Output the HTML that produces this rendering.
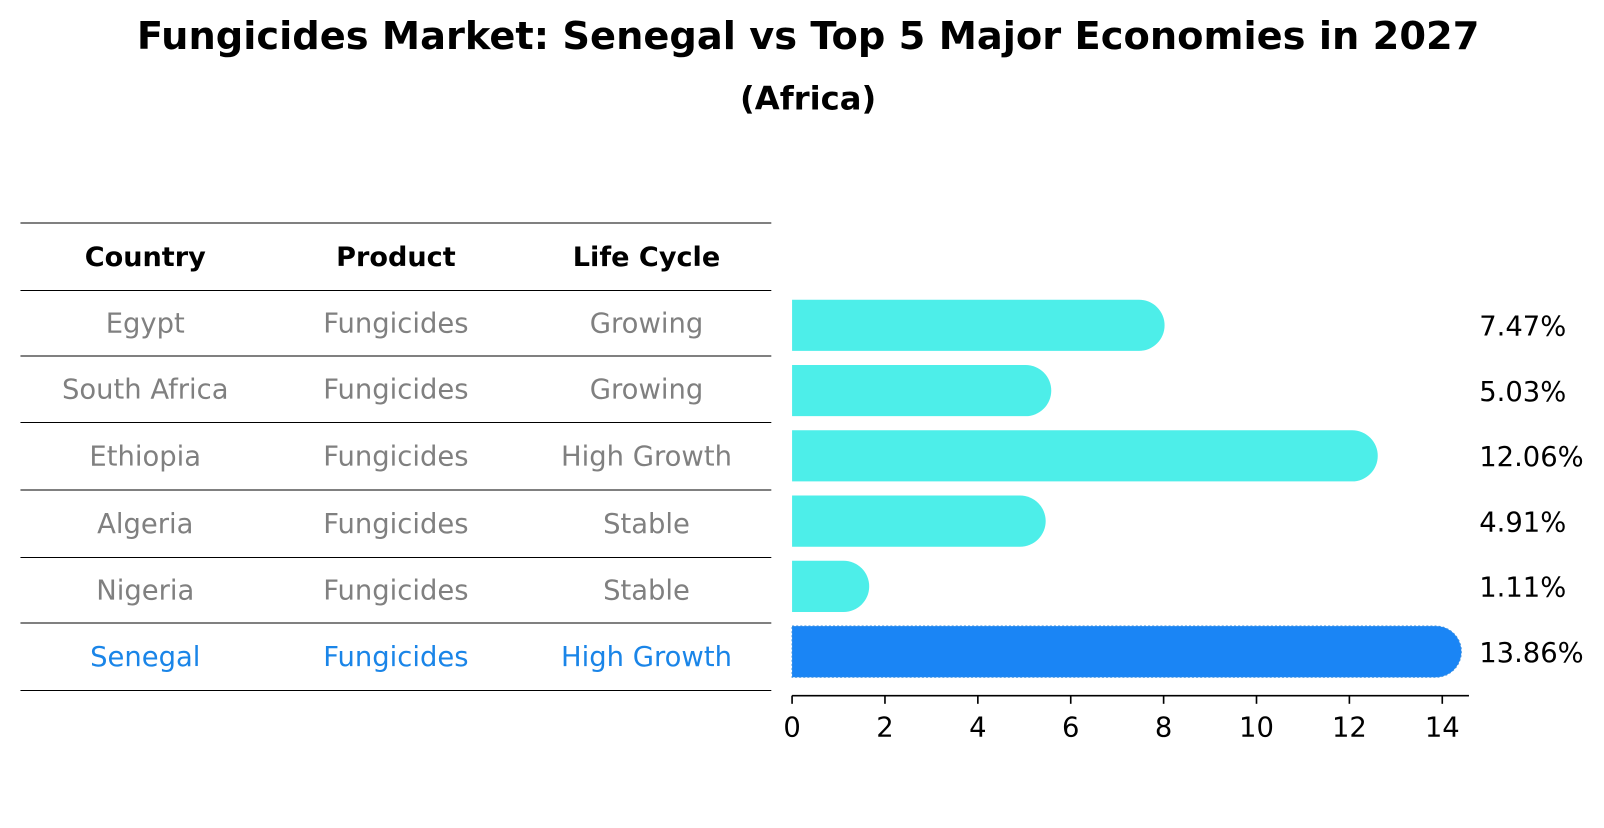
<!DOCTYPE html>
<html><head><meta charset="utf-8"><style>
body{margin:0;background:#fff;overflow:hidden;}
svg text{font-family:"DejaVu Sans","Liberation Sans",sans-serif;}
</style></head><body>
<svg id="chart" width="1604" height="823" viewBox="0 0 1568 804.5" preserveAspectRatio="none" xmlns="http://www.w3.org/2000/svg">
<text x="790" y="48" text-anchor="middle" font-size="37.5" font-weight="bold">Fungicides Market: Senegal vs Top 5 Major Economies in 2027</text>
<text x="790" y="107" text-anchor="middle" font-size="31.5" font-weight="bold">(Africa)</text>
<g id="table"></g>
<g id="bars"></g>
</svg>
<script>
const countries=["Egypt","South Africa","Ethiopia","Algeria","Nigeria","Senegal"];
const products=["Fungicides","Fungicides","Fungicides","Fungicides","Fungicides","Fungicides"];
const lifeCycles=["Growing","Growing","High Growth","Stable","Stable","High Growth"];
const values=[7.47,5.03,12.06,4.91,1.11,13.86];
const ticks=[0,2,4,6,8,10,12,14];
const NS="http://www.w3.org/2000/svg";
const tbl=document.getElementById('table');
const bars=document.getElementById('bars');
function mk(tag,attrs,parent,txt){const e=document.createElementNS(NS,tag);for(const k in attrs)e.setAttribute(k,attrs[k]);if(txt!==undefined)e.textContent=txt;parent.appendChild(e);return e;}
const x0=774.3,xs=45.4;
function X(v){return x0+v*xs;}
function BY(i){return 318+i*63.8;}
// table
const lineYs=[218,284,348,413,479,545,609,675];
lineYs.forEach(y=>{const l=mk('line',{x1:20,x2:754,y1:y,y2:y,stroke:'#000','stroke-width':1},tbl);

});
const colX=[142,387,632];
["Country","Product","Life Cycle"].forEach((h,j)=>{const t=mk('text',{x:colX[j],y:260,'text-anchor':'middle','font-size':26.5,'font-weight':'bold'},tbl,h);

});
countries.forEach((c,i)=>{const col=i===countries.length-1?'#1a85e8':'#808080';
const yc=(lineYs[i+1]+lineYs[i+2])/2;
[c,products[i],lifeCycles[i]].forEach((v,j)=>{const t=mk('text',{x:colX[j],y:yc+9,'text-anchor':'middle','font-size':26.8,fill:col},tbl,v);

});});
// bars
const r=25;
values.forEach((v,i)=>{const col=i===values.length-1?'#1a85f5':'#4deee9';
const yc=BY(i),xe=X(v);
const d=`M${x0},${yc-r} L${xe},${yc-r} A${r},${r} 0 0 1 ${xe},${yc+r} L${x0},${yc+r} Z`;
const p=mk('path',{d:d,fill:col},bars);
if(i===values.length-1){p.setAttribute('stroke','#3a8fe0');p.setAttribute('stroke-dasharray','2,2');p.setAttribute('stroke-width','1');}


const t=mk('text',{x:1446,y:yc+10,'font-size':26.8},bars,v.toFixed(2)+'%');

});
// axis
const ax=mk('line',{x1:x0,x2:1436,y1:680,y2:680,stroke:'#000','stroke-width':1.6},bars);


ticks.forEach(tv=>{const tl=mk('line',{x1:X(tv),x2:X(tv),y1:680,y2:688,stroke:'#000','stroke-width':1.6},bars);


const t=mk('text',{x:X(tv),y:720,'text-anchor':'middle','font-size':26.8},bars,String(tv));

});
</script>
</body></html>
